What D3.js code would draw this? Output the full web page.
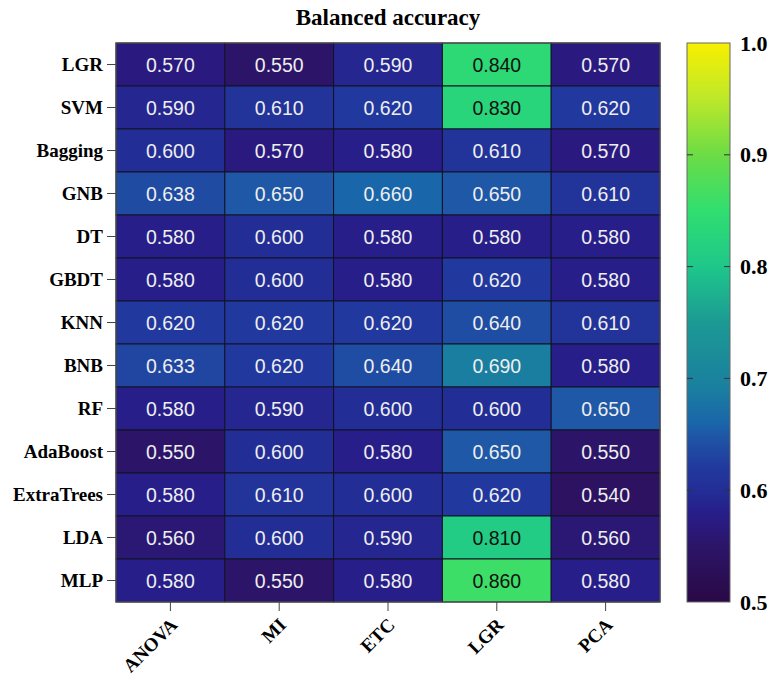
<!DOCTYPE html>
<html>
<head>
  <meta charset="utf-8">
  <style>
  body { margin: 0; background: #fff; }
  .lbl { font-family: "Liberation Serif", "Times New Roman", serif; font-weight: bold; fill: #000; }
  .cell-text { font-family: "Liberation Sans", Arial, sans-serif; }
  </style>
  <script src="https://d3js.org/d3.v7.min.js"></script>
</head>
<body>
<svg id="chart"></svg>
<script>
// row / column names
var methods = ["LGR", "SVM", "Bagging", "GNB", "DT", "GBDT", "KNN", "BNB", "RF", "AdaBoost", "ExtraTrees", "LDA", "MLP"];
var selectors = ["ANOVA", "MI", "ETC", "LGR", "PCA"];

// balanced accuracy, one array per feature selector (top to bottom)
var anova = [0.570, 0.590, 0.600, 0.638, 0.580, 0.580, 0.620, 0.633, 0.580, 0.550, 0.580, 0.560, 0.580];
var mi    = [0.550, 0.610, 0.570, 0.650, 0.600, 0.600, 0.620, 0.620, 0.590, 0.600, 0.610, 0.600, 0.550];
var etc   = [0.590, 0.620, 0.580, 0.660, 0.580, 0.580, 0.620, 0.640, 0.600, 0.580, 0.600, 0.590, 0.580];
var lgr   = [0.840, 0.830, 0.610, 0.650, 0.580, 0.620, 0.640, 0.690, 0.600, 0.650, 0.620, 0.810, 0.860];
var pca   = [0.570, 0.620, 0.570, 0.610, 0.580, 0.580, 0.610, 0.580, 0.650, 0.550, 0.540, 0.560, 0.580];

var colorTicks = [0.5, 0.6, 0.7, 0.8, 0.9, 1.0];

var W = 774, H = 681;
var mLeft = 116, mTop = 43, mRight = 660, mBottom = 602;

var svg = d3.select("#chart").attr("width", W).attr("height", H);

// flatten to cells
var series = [anova, mi, etc, lgr, pca];
var cells = [];
selectors.forEach(function(s, j) {
  methods.forEach(function(m, i) {
    cells.push({ row: m, col: s, v: series[j][i] });
  });
});

var x = d3.scaleBand().domain(selectors).range([mLeft, mRight]);
var y = d3.scaleBand().domain(methods).range([mTop, mBottom]);

// viridis-like, but bluer like the original
var color = d3.scaleLinear()
  .domain([0.50, 0.55, 0.57, 0.58, 0.60, 0.62, 0.65, 0.66, 0.69, 0.75, 0.80, 0.85, 0.90, 0.95, 1.00])
  .range(["#2a0845", "#2c1568", "#2a1a80", "#271e8a", "#232d96", "#21389e", "#1e58a6", "#1a66aa", "#1a7ea0",
          "#1b9a94", "#1ec78a", "#30de70", "#6cdc45", "#bde82a", "#f8f000"])
  .clamp(true);

// title
svg.append("text")
  .attr("class", "lbl")
  .attr("x", (mLeft + mRight) / 2)
  .attr("y", 25)
  .attr("text-anchor", "middle")
  .style("font-size", "23px")
  .text("Balanced accuracy");

// cells
svg.append("g").selectAll("rect")
  .data(cells)
  .enter().append("rect")
    .attr("x", function(d) { return x(d.col); })
    .attr("y", function(d) { return y(d.row); })
    .attr("width", x.bandwidth())
    .attr("height", y.bandwidth())
    .attr("fill", function(d) { return color(d.v); })
    .attr("stroke", "#121225")
    .attr("stroke-width", 1);

svg.append("g").selectAll("text")
  .data(cells)
  .enter().append("text")
    .attr("class", "cell-text")
    .attr("x", function(d) { return x(d.col) + x.bandwidth() / 2; })
    .attr("y", function(d) { return y(d.row) + y.bandwidth() / 2; })
    .attr("text-anchor", "middle")
    .attr("dominant-baseline", "central")
    .style("font-size", "19.5px")
    .attr("fill", function(d) { return d.v > 0.75 ? "#111" : "#eeeeee"; })
    .text(function(d) { return d3.format(".3f")(d.v); });

// outer frame
svg.append("rect")
  .attr("x", mLeft).attr("y", mTop)
  .attr("width", mRight - mLeft).attr("height", mBottom - mTop)
  .attr("fill", "none")
  .attr("stroke", "#555")
  .attr("stroke-width", 1.2);

// y axis
var yAxis = svg.append("g")
  .attr("transform", "translate(" + mLeft + ",0)")
  .call(d3.axisLeft(y).tickSize(9).tickPadding(4));
yAxis.select(".domain").remove();
yAxis.selectAll("line").attr("stroke", "#444");
yAxis.selectAll("text")
  .attr("class", "lbl")
  .style("font-size", "19px");

// x axis
var xAxis = svg.append("g")
  .attr("transform", "translate(0," + mBottom + ")")
  .call(d3.axisBottom(x).tickSize(9));
xAxis.select(".domain").remove();
xAxis.selectAll("line").attr("stroke", "#444");
xAxis.selectAll("text")
  .attr("class", "lbl")
  .style("font-size", "19px")
  .attr("text-anchor", "end")
  .attr("dy", null)
  .attr("y", null)
  .attr("transform", "translate(8,24) rotate(-45)");

// colour bar
var cbX = 687, cbW = 43;
var cy = d3.scaleLinear().domain([0.5, 1.0]).range([mBottom, mTop]);

var defs = svg.append("defs");
var grad = defs.append("linearGradient")
  .attr("id", "cbgrad")
  .attr("x1", 0).attr("y1", 1).attr("x2", 0).attr("y2", 0);
d3.range(0, 1.0001, 0.02).forEach(function(t) {
  grad.append("stop")
    .attr("offset", t)
    .attr("stop-color", color(0.5 + t * 0.5));
});

svg.append("rect")
  .attr("x", cbX).attr("y", mTop)
  .attr("width", cbW).attr("height", mBottom - mTop)
  .attr("fill", "url(#cbgrad)")
  .attr("stroke", "#666")
  .attr("stroke-width", 1);

var cbTicks = svg.append("g").selectAll("g")
  .data(colorTicks)
  .enter().append("g")
    .attr("transform", function(d) { return "translate(0," + cy(d) + ")"; });

cbTicks.filter(function(d) { return d > 0.5 && d < 1.0; })
  .append("line")
    .attr("x1", cbX).attr("x2", cbX + 6)
    .attr("stroke", "#333");
cbTicks.filter(function(d) { return d > 0.5 && d < 1.0; })
  .append("line")
    .attr("x1", cbX + cbW - 6).attr("x2", cbX + cbW)
    .attr("stroke", "#333");

cbTicks.append("text")
  .attr("class", "lbl")
  .attr("x", 740)
  .attr("dominant-baseline", "central")
  .style("font-size", "22px")
  .text(function(d) { return d3.format(".1f")(d); });
</script>
</body>
</html>
